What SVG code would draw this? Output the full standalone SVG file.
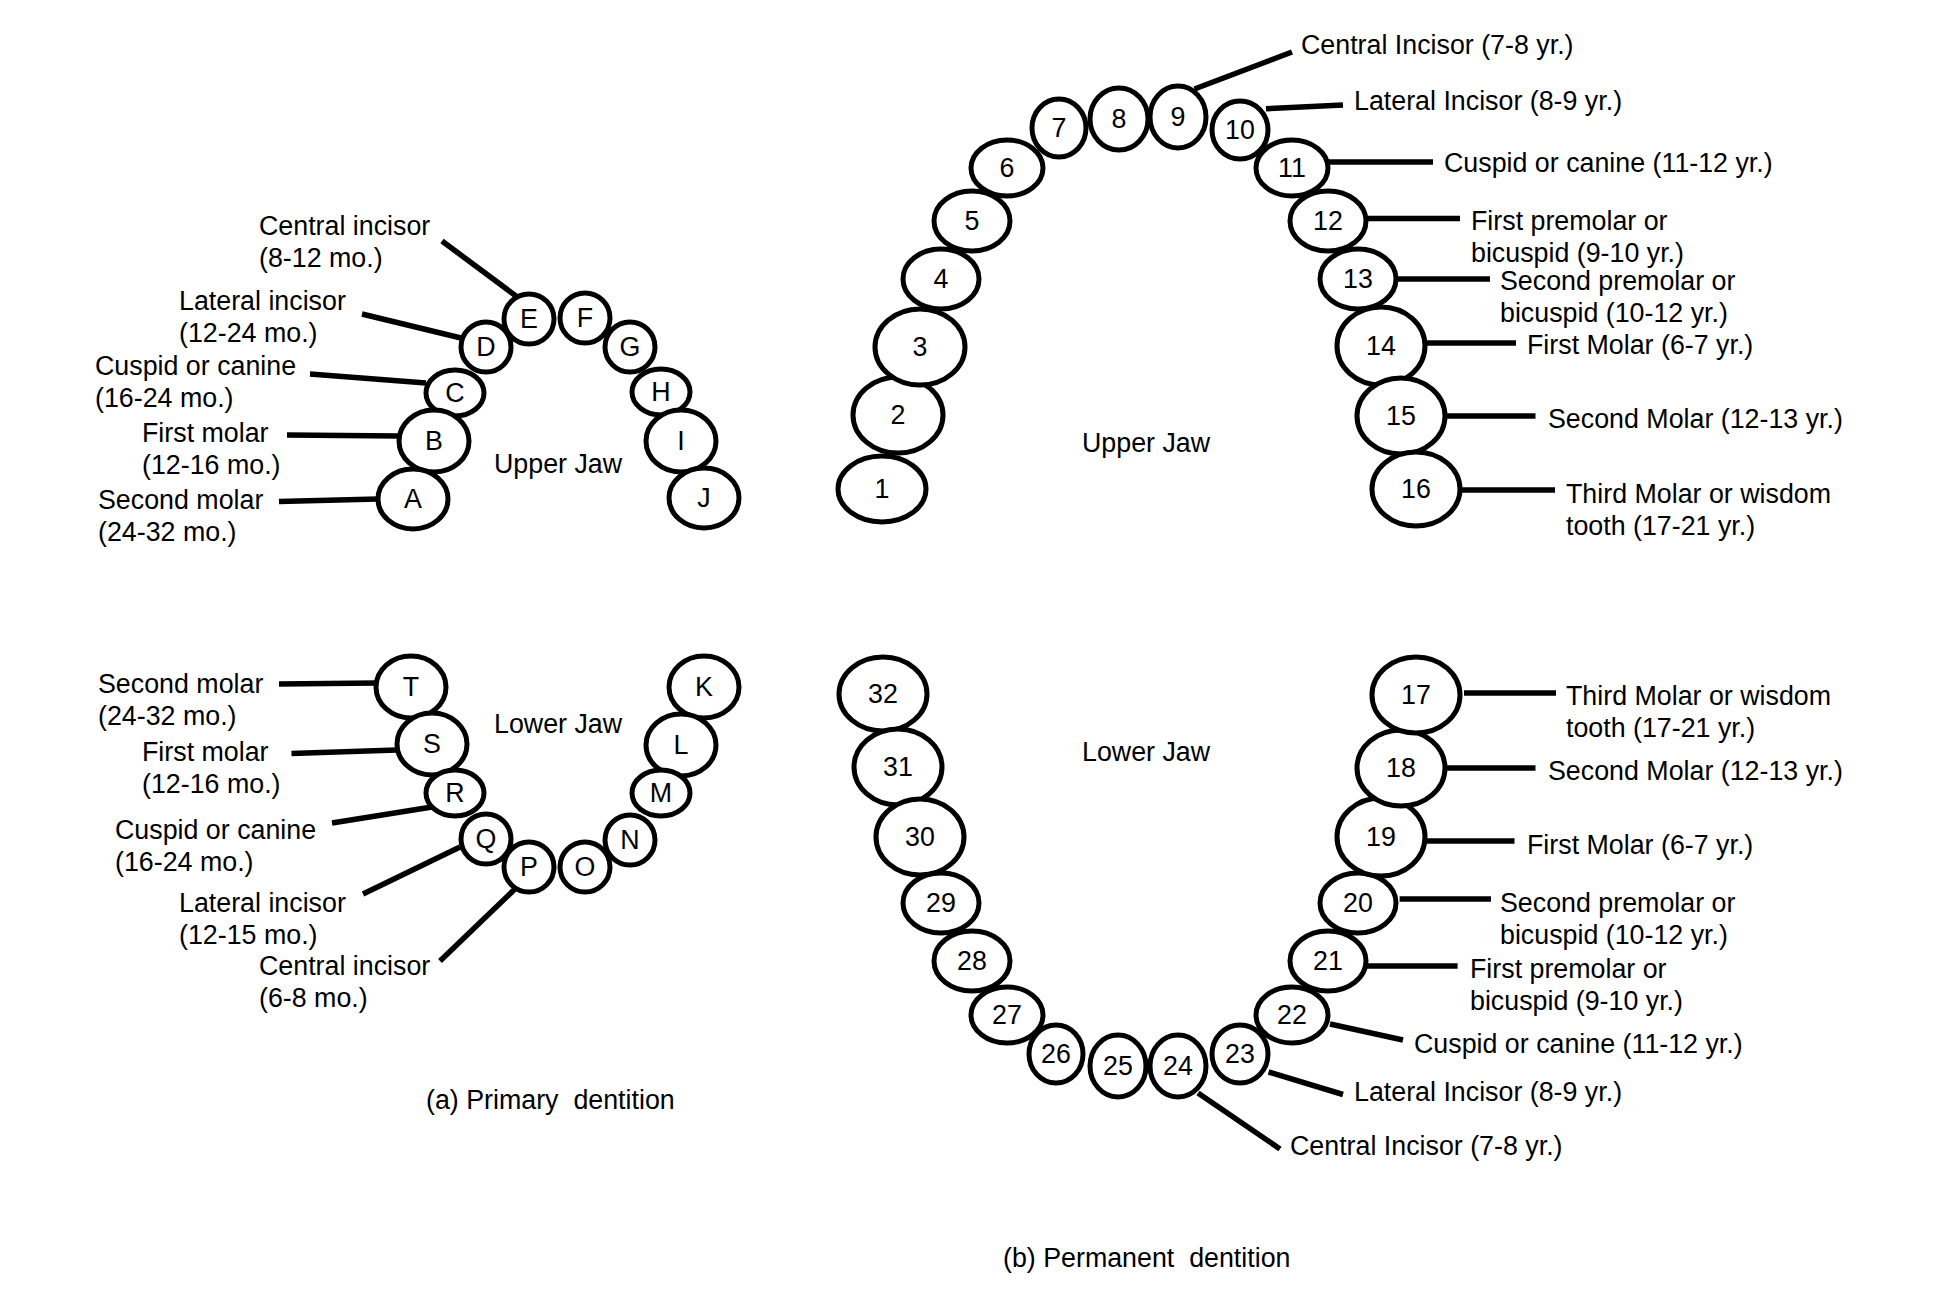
<svg xmlns="http://www.w3.org/2000/svg" width="1937" height="1299" viewBox="0 0 1937 1299">
<style>
  .t ellipse { fill: #fff; stroke: #000; stroke-width: 5; }
  text { font-family: "Liberation Sans", Arial, sans-serif; font-size: 26.8px; fill: #000; }
  .t text { text-anchor: middle; }
  .c line { stroke: #000; stroke-width: 5.5; stroke-linecap: butt; }
</style>
<rect width="1937" height="1299" fill="#fff"/>

<!-- connectors -->
<g id="connectors" class="c">
  <!-- primary upper -->
  <line x1="442" y1="241" x2="516" y2="296"/>
  <line x1="362" y1="314" x2="461" y2="338"/>
  <line x1="310" y1="374" x2="426" y2="383"/>
  <line x1="287" y1="435" x2="399" y2="436"/>
  <line x1="279" y1="501.5" x2="378" y2="499"/>
  <!-- primary lower -->
  <line x1="279" y1="684" x2="377" y2="683"/>
  <line x1="291.5" y1="753.5" x2="397" y2="750"/>
  <line x1="332" y1="823" x2="432" y2="807"/>
  <line x1="363" y1="894" x2="460" y2="847"/>
  <line x1="440" y1="961" x2="516" y2="888"/>
  <!-- permanent upper -->
  <line x1="1194.5" y1="89" x2="1292" y2="52"/>
  <line x1="1266" y1="108.7" x2="1343" y2="105"/>
  <line x1="1328" y1="162" x2="1433" y2="162"/>
  <line x1="1366" y1="218.6" x2="1460" y2="218.6"/>
  <line x1="1395" y1="279" x2="1490" y2="279"/>
  <line x1="1424" y1="343" x2="1516" y2="343"/>
  <line x1="1445" y1="416" x2="1535.5" y2="416"/>
  <line x1="1461" y1="490" x2="1555" y2="490"/>
  <!-- permanent lower -->
  <line x1="1464" y1="693" x2="1556" y2="693"/>
  <line x1="1445" y1="768" x2="1535.5" y2="768"/>
  <line x1="1427" y1="841" x2="1514.5" y2="841"/>
  <line x1="1399.6" y1="899" x2="1491" y2="899"/>
  <line x1="1366" y1="966" x2="1457.6" y2="966"/>
  <line x1="1330" y1="1024" x2="1403" y2="1040"/>
  <line x1="1268.6" y1="1072" x2="1343" y2="1094.5"/>
  <line x1="1198" y1="1093" x2="1280" y2="1149"/>
</g>

<!-- primary dentition teeth -->
<g id="tooth-E" class="t"><ellipse cx="529" cy="319" rx="25" ry="25"/><text x="529" y="328">E</text></g>
<g id="tooth-F" class="t"><ellipse cx="585" cy="318" rx="25" ry="25"/><text x="585" y="327">F</text></g>
<g id="tooth-D" class="t"><ellipse cx="486" cy="347" rx="25" ry="25"/><text x="486" y="356">D</text></g>
<g id="tooth-G" class="t"><ellipse cx="630" cy="347" rx="25" ry="25"/><text x="630" y="356">G</text></g>
<g id="tooth-C" class="t"><ellipse cx="455" cy="393" rx="29" ry="23"/><text x="455" y="402">C</text></g>
<g id="tooth-H" class="t"><ellipse cx="661" cy="392" rx="29" ry="23"/><text x="661" y="401">H</text></g>
<g id="tooth-B" class="t"><ellipse cx="434" cy="441" rx="35" ry="31"/><text x="434" y="450">B</text></g>
<g id="tooth-I" class="t"><ellipse cx="681" cy="441" rx="35" ry="31"/><text x="681" y="450">I</text></g>
<g id="tooth-A" class="t"><ellipse cx="413" cy="499" rx="35" ry="30"/><text x="413" y="508">A</text></g>
<g id="tooth-J" class="t"><ellipse cx="704" cy="498" rx="35" ry="30"/><text x="704" y="507">J</text></g>

<g id="tooth-T" class="t"><ellipse cx="411" cy="687" rx="35" ry="31"/><text x="411" y="696">T</text></g>
<g id="tooth-K" class="t"><ellipse cx="704" cy="687" rx="35" ry="31"/><text x="704" y="696">K</text></g>
<g id="tooth-S" class="t"><ellipse cx="432" cy="744" rx="35" ry="31"/><text x="432" y="753">S</text></g>
<g id="tooth-L" class="t"><ellipse cx="681" cy="745" rx="35" ry="31"/><text x="681" y="754">L</text></g>
<g id="tooth-R" class="t"><ellipse cx="455" cy="793" rx="29" ry="23"/><text x="455" y="802">R</text></g>
<g id="tooth-M" class="t"><ellipse cx="661" cy="793" rx="29" ry="23"/><text x="661" y="802">M</text></g>
<g id="tooth-Q" class="t"><ellipse cx="486" cy="839" rx="25" ry="25"/><text x="486" y="848">Q</text></g>
<g id="tooth-N" class="t"><ellipse cx="630" cy="840" rx="25" ry="25"/><text x="630" y="849">N</text></g>
<g id="tooth-P" class="t"><ellipse cx="529" cy="867" rx="25" ry="25"/><text x="529" y="876">P</text></g>
<g id="tooth-O" class="t"><ellipse cx="585" cy="867" rx="25" ry="25"/><text x="585" y="876">O</text></g>

<!-- primary labels -->
<g id="label-p-upper-central"><text x="259" y="235">Central incisor</text><text x="259" y="267">(8-12 mo.)</text></g>
<g id="label-p-upper-lateral"><text x="179" y="310">Lateral incisor</text><text x="179" y="342">(12-24 mo.)</text></g>
<g id="label-p-upper-cuspid"><text x="95" y="375">Cuspid or canine</text><text x="95" y="407">(16-24 mo.)</text></g>
<g id="label-p-upper-first"><text x="142" y="442">First molar</text><text x="142" y="474">(12-16 mo.)</text></g>
<g id="label-p-upper-second"><text x="98" y="509">Second molar</text><text x="98" y="541">(24-32 mo.)</text></g>
<g id="label-upper-jaw-a"><text x="494" y="473">Upper Jaw</text></g>

<g id="label-p-lower-second"><text x="98" y="693">Second molar</text><text x="98" y="725">(24-32 mo.)</text></g>
<g id="label-p-lower-first"><text x="142" y="761">First molar</text><text x="142" y="793">(12-16 mo.)</text></g>
<g id="label-p-lower-cuspid"><text x="115" y="839">Cuspid or canine</text><text x="115" y="871">(16-24 mo.)</text></g>
<g id="label-p-lower-lateral"><text x="179" y="912">Lateral incisor</text><text x="179" y="944">(12-15 mo.)</text></g>
<g id="label-p-lower-central"><text x="259" y="975">Central incisor</text><text x="259" y="1007">(6-8 mo.)</text></g>
<g id="label-lower-jaw-a"><text x="494" y="733">Lower Jaw</text></g>

<g id="caption-a"><text x="426" y="1109" xml:space="preserve">(a) Primary  dentition</text></g>

<!-- permanent dentition teeth -->
<g id="tooth-1" class="t"><ellipse cx="882" cy="489" rx="44" ry="33"/><text x="882" y="498">1</text></g>
<g id="tooth-2" class="t"><ellipse cx="898" cy="415" rx="45" ry="38"/><text x="898" y="424">2</text></g>
<g id="tooth-3" class="t"><ellipse cx="920" cy="347" rx="45" ry="38"/><text x="920" y="356">3</text></g>
<g id="tooth-4" class="t"><ellipse cx="941" cy="279" rx="38" ry="30"/><text x="941" y="288">4</text></g>
<g id="tooth-5" class="t"><ellipse cx="972" cy="221" rx="38" ry="30"/><text x="972" y="230">5</text></g>
<g id="tooth-6" class="t"><ellipse cx="1007" cy="168" rx="36" ry="28"/><text x="1007" y="177">6</text></g>
<g id="tooth-7" class="t"><ellipse cx="1059" cy="128" rx="27" ry="29"/><text x="1059" y="137">7</text></g>
<g id="tooth-8" class="t"><ellipse cx="1119" cy="119" rx="29" ry="31"/><text x="1119" y="128">8</text></g>
<g id="tooth-9" class="t"><ellipse cx="1178" cy="117" rx="28" ry="31"/><text x="1178" y="126">9</text></g>
<g id="tooth-10" class="t"><ellipse cx="1240" cy="130" rx="28" ry="29"/><text x="1240" y="139">10</text></g>
<g id="tooth-11" class="t"><ellipse cx="1292" cy="168" rx="36" ry="28"/><text x="1292" y="177">11</text></g>
<g id="tooth-12" class="t"><ellipse cx="1328" cy="221" rx="38" ry="30"/><text x="1328" y="230">12</text></g>
<g id="tooth-13" class="t"><ellipse cx="1358" cy="279" rx="38" ry="30"/><text x="1358" y="288">13</text></g>
<g id="tooth-14" class="t"><ellipse cx="1381" cy="346" rx="44" ry="39"/><text x="1381" y="355">14</text></g>
<g id="tooth-15" class="t"><ellipse cx="1401" cy="416" rx="44" ry="38"/><text x="1401" y="425">15</text></g>
<g id="tooth-16" class="t"><ellipse cx="1416" cy="489" rx="44" ry="37"/><text x="1416" y="498">16</text></g>

<g id="tooth-32" class="t"><ellipse cx="883" cy="694" rx="44" ry="37"/><text x="883" y="703">32</text></g>
<g id="tooth-31" class="t"><ellipse cx="898" cy="767" rx="44" ry="38"/><text x="898" y="776">31</text></g>
<g id="tooth-30" class="t"><ellipse cx="920" cy="837" rx="44" ry="38"/><text x="920" y="846">30</text></g>
<g id="tooth-29" class="t"><ellipse cx="941" cy="903" rx="38" ry="30"/><text x="941" y="912">29</text></g>
<g id="tooth-28" class="t"><ellipse cx="972" cy="961" rx="38" ry="30"/><text x="972" y="970">28</text></g>
<g id="tooth-27" class="t"><ellipse cx="1007" cy="1015" rx="36" ry="28"/><text x="1007" y="1024">27</text></g>
<g id="tooth-26" class="t"><ellipse cx="1056" cy="1054" rx="27" ry="29"/><text x="1056" y="1063">26</text></g>
<g id="tooth-25" class="t"><ellipse cx="1118" cy="1066" rx="28" ry="31"/><text x="1118" y="1075">25</text></g>
<g id="tooth-24" class="t"><ellipse cx="1178" cy="1066" rx="28" ry="31"/><text x="1178" y="1075">24</text></g>
<g id="tooth-23" class="t"><ellipse cx="1240" cy="1054" rx="28" ry="29"/><text x="1240" y="1063">23</text></g>
<g id="tooth-22" class="t"><ellipse cx="1292" cy="1015" rx="36" ry="28"/><text x="1292" y="1024">22</text></g>
<g id="tooth-21" class="t"><ellipse cx="1328" cy="961" rx="38" ry="30"/><text x="1328" y="970">21</text></g>
<g id="tooth-20" class="t"><ellipse cx="1358" cy="903" rx="38" ry="30"/><text x="1358" y="912">20</text></g>
<g id="tooth-19" class="t"><ellipse cx="1381" cy="837" rx="44" ry="39"/><text x="1381" y="846">19</text></g>
<g id="tooth-18" class="t"><ellipse cx="1401" cy="768" rx="44" ry="38"/><text x="1401" y="777">18</text></g>
<g id="tooth-17" class="t"><ellipse cx="1416" cy="695" rx="44" ry="38"/><text x="1416" y="704">17</text></g>

<!-- permanent labels -->
<g id="label-u-central"><text x="1301" y="54">Central Incisor (7-8 yr.)</text></g>
<g id="label-u-lateral"><text x="1354" y="110">Lateral Incisor (8-9 yr.)</text></g>
<g id="label-u-cuspid"><text x="1444" y="172">Cuspid or canine (11-12 yr.)</text></g>
<g id="label-u-first-pm"><text x="1471" y="230">First premolar or</text><text x="1471" y="262">bicuspid (9-10 yr.)</text></g>
<g id="label-u-second-pm"><text x="1500" y="290">Second premolar or</text><text x="1500" y="322">bicuspid (10-12 yr.)</text></g>
<g id="label-u-first-m"><text x="1527" y="354">First Molar (6-7 yr.)</text></g>
<g id="label-u-second-m"><text x="1548" y="428">Second Molar (12-13 yr.)</text></g>
<g id="label-u-third-m"><text x="1566" y="503">Third Molar or wisdom</text><text x="1566" y="535">tooth (17-21 yr.)</text></g>
<g id="label-upper-jaw-b"><text x="1082" y="452">Upper Jaw</text></g>

<g id="label-l-third-m"><text x="1566" y="705">Third Molar or wisdom</text><text x="1566" y="737">tooth (17-21 yr.)</text></g>
<g id="label-l-second-m"><text x="1548" y="780">Second Molar (12-13 yr.)</text></g>
<g id="label-l-first-m"><text x="1527" y="854">First Molar (6-7 yr.)</text></g>
<g id="label-l-second-pm"><text x="1500" y="912">Second premolar or</text><text x="1500" y="944">bicuspid (10-12 yr.)</text></g>
<g id="label-l-first-pm"><text x="1470" y="978">First premolar or</text><text x="1470" y="1010">bicuspid (9-10 yr.)</text></g>
<g id="label-l-cuspid"><text x="1414" y="1053">Cuspid or canine (11-12 yr.)</text></g>
<g id="label-l-lateral"><text x="1354" y="1101">Lateral Incisor (8-9 yr.)</text></g>
<g id="label-l-central"><text x="1290" y="1155">Central Incisor (7-8 yr.)</text></g>
<g id="label-lower-jaw-b"><text x="1082" y="761">Lower Jaw</text></g>

<g id="caption-b"><text x="1003" y="1267" xml:space="preserve">(b) Permanent  dentition</text></g>
</svg>
